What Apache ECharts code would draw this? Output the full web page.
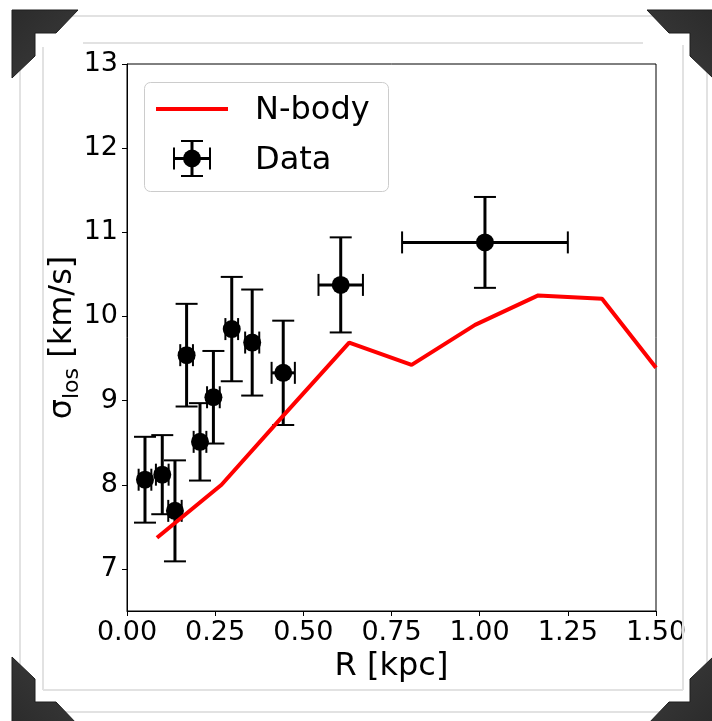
<!DOCTYPE html>
<html>
<head>
<meta charset="utf-8">
<script src="https://cdn.jsdelivr.net/npm/echarts@6/dist/echarts.min.js"></script>
<style>
  html, body { margin: 0; padding: 0; background: #ffffff; }
  #chart { width: 712px; height: 721px; }
</style>
</head>
<body>
<div id="chart"></div>
<script>
// Observed line-of-sight velocity dispersion profile
const radius    = [0.051, 0.100, 0.136, 0.169, 0.207, 0.245, 0.297, 0.355, 0.443, 0.606, 1.015];
const radiusErr = [0.018, 0.018, 0.019, 0.018, 0.018, 0.018, 0.018, 0.020, 0.033, 0.063, 0.235];
const sigma     = [8.06, 8.12, 7.69, 9.54, 8.51, 9.04, 9.85, 9.69, 9.33, 10.375, 10.88];
const sigmaErr  = [0.51, 0.47, 0.60, 0.61, 0.46, 0.55, 0.62, 0.63, 0.62, 0.565, 0.54];

// N-body model profile
const nbodyR     = [0.085, 0.268, 0.447, 0.630, 0.807, 0.987, 1.166, 1.347, 1.500];
const nbodySigma = [7.37, 8.00, 8.84, 9.69, 9.425, 9.90, 10.25, 10.21, 9.39];

// Axis ticks
const xTicks = [0, 0.25, 0.5, 0.75, 1.0, 1.25, 1.5];
const yTicks = [7, 8, 9, 10, 11, 12, 13];

const FONT = 'DejaVu Sans';
const chart = echarts.init(document.getElementById('chart'), null, { renderer: 'canvas' });

// Corner mount shapes of the photo frame
function corner(flipX, flipY) {
  const base = [[12, 10], [78, 10], [56, 33], [35, 33], [35, 56], [12, 78]];
  const pts = base.map(([x, y]) => [flipX ? 725 - x : x, flipY ? 735 - y : y]);
  return {
    type: 'polygon',
    shape: { points: pts },
    style: {
      fill: new echarts.graphic.LinearGradient(flipX ? 1 : 0, flipY ? 1 : 0, flipX ? 0 : 1, flipY ? 0 : 1, [
        { offset: 0, color: '#2b2b2b' },
        { offset: 1, color: '#3c3c3c' }
      ]),
      stroke: '#1e1e1e', lineWidth: 1
    },
    z: 100
  };
}

function frameLine(x1, y1, x2, y2) {
  return { type: 'line', shape: { x1, y1, x2, y2 }, style: { stroke: '#e2e2e2', lineWidth: 2 }, z: 1, silent: true };
}

const legendGraphics = [
  { type: 'rect', shape: { x: 144.5, y: 82.5, width: 244, height: 109, r: 6 },
    style: { fill: 'rgba(255,255,255,0.8)', stroke: '#cccccc', lineWidth: 1 }, z: 50 },
  { type: 'line', shape: { x1: 156, y1: 109, x2: 228, y2: 109 }, style: { stroke: '#ff0000', lineWidth: 4 }, z: 51 },
  { type: 'text', style: { x: 255, y: 111, text: 'N-body', fill: '#000', font: '32px "DejaVu Sans"', textVerticalAlign: 'middle', verticalAlign: 'middle' }, z: 51 },
  { type: 'line', shape: { x1: 192, y1: 141, x2: 192, y2: 176 }, style: { stroke: '#000', lineWidth: 3 }, z: 51 },
  { type: 'line', shape: { x1: 174, y1: 158.5, x2: 210, y2: 158.5 }, style: { stroke: '#000', lineWidth: 3 }, z: 51 },
  { type: 'line', shape: { x1: 181, y1: 141, x2: 203, y2: 141 }, style: { stroke: '#000', lineWidth: 2 }, z: 51 },
  { type: 'line', shape: { x1: 181, y1: 176, x2: 203, y2: 176 }, style: { stroke: '#000', lineWidth: 2 }, z: 51 },
  { type: 'line', shape: { x1: 174, y1: 147.5, x2: 174, y2: 169.5 }, style: { stroke: '#000', lineWidth: 2 }, z: 51 },
  { type: 'line', shape: { x1: 210, y1: 147.5, x2: 210, y2: 169.5 }, style: { stroke: '#000', lineWidth: 2 }, z: 51 },
  { type: 'circle', shape: { cx: 192, cy: 158.5, r: 9 }, style: { fill: '#000' }, z: 52 },
  { type: 'text', style: { x: 255, y: 161, text: 'Data', fill: '#000', font: '32px "DejaVu Sans"', textVerticalAlign: 'middle', verticalAlign: 'middle' }, z: 51 }
];

const option = {
  backgroundColor: '#ffffff',
  animation: false,
  textStyle: { fontFamily: FONT },
  grid: { left: 127, top: 64, right: 56, bottom: 110, show: true, borderColor: '#000', borderWidth: 1, backgroundColor: '#fff' },
  xAxis: {
    type: 'value', min: 0, max: 1.5, interval: 0.25,
    name: 'R [kpc]', nameLocation: 'middle', nameGap: 40, nameMoveOverlap: false,
    nameTextStyle: { fontSize: 32, color: '#000', fontFamily: FONT },
    axisLine: { show: true, onZero: false, lineStyle: { color: '#000', width: 1 } },
    axisTick: { show: true, length: 5, lineStyle: { color: '#000', width: 1 }, customValues: xTicks },
    axisLabel: { fontSize: 27, color: '#000', margin: 8, fontFamily: FONT, customValues: xTicks,
                 formatter: v => v.toFixed(2) },
    splitLine: { show: false }
  },
  yAxis: {
    type: 'value', min: 6.5, max: 13,
    name: '{a|σ}{b|los}{a| [km/s]}', nameLocation: 'middle', nameGap: 44, nameRotate: 90, nameMoveOverlap: false,
    nameTextStyle: {
      color: '#000', fontFamily: FONT,
      rich: {
        a: { fontSize: 32, lineHeight: 40, fontFamily: FONT, color: '#000' },
        b: { fontSize: 22, lineHeight: 30, fontFamily: FONT, color: '#000', verticalAlign: 'bottom' }
      }
    },
    axisLine: { show: true, onZero: false, lineStyle: { color: '#000', width: 1 } },
    axisTick: { show: true, length: 5, lineStyle: { color: '#000', width: 1 }, customValues: yTicks },
    axisLabel: { fontSize: 27, color: '#000', margin: 9, fontFamily: FONT, customValues: yTicks },
    splitLine: { show: false }
  },
  series: [
    {
      name: 'Data-errors',
      type: 'custom',
      z: 3,
      data: radius.map((r, i) => [r, sigma[i], radiusErr[i], sigmaErr[i]]),
      encode: { x: 0, y: 1 },
      renderItem: function (params, api) {
        const x = api.value(0), y = api.value(1), xe = api.value(2), ye = api.value(3);
        const top = api.coord([x, y + ye]);
        const bot = api.coord([x, y - ye]);
        const lft = api.coord([x - xe, y]);
        const rgt = api.coord([x + xe, y]);
        const cap = 11;
        const bar = { stroke: '#000', lineWidth: 3 };
        const capStyle = { stroke: '#000', lineWidth: 2 };
        return {
          type: 'group',
          children: [
            { type: 'line', shape: { x1: top[0], y1: top[1], x2: bot[0], y2: bot[1] }, style: bar },
            { type: 'line', shape: { x1: lft[0], y1: lft[1], x2: rgt[0], y2: rgt[1] }, style: bar },
            { type: 'line', shape: { x1: top[0] - cap, y1: top[1], x2: top[0] + cap, y2: top[1] }, style: capStyle },
            { type: 'line', shape: { x1: bot[0] - cap, y1: bot[1], x2: bot[0] + cap, y2: bot[1] }, style: capStyle },
            { type: 'line', shape: { x1: lft[0], y1: lft[1] - cap, x2: lft[0], y2: lft[1] + cap }, style: capStyle },
            { type: 'line', shape: { x1: rgt[0], y1: rgt[1] - cap, x2: rgt[0], y2: rgt[1] + cap }, style: capStyle }
          ]
        };
      }
    },
    {
      name: 'Data',
      type: 'scatter',
      z: 4,
      symbol: 'circle',
      symbolSize: 18,
      itemStyle: { color: '#000', opacity: 1 },
      data: radius.map((r, i) => [r, sigma[i]])
    },
    {
      name: 'N-body',
      type: 'line',
      z: 5,
      symbol: 'none',
      clip: true,
      lineStyle: { color: '#ff0000', width: 4 },
      data: nbodyR.map((r, i) => [r, nbodySigma[i]])
    }
  ],
  graphic: [
    // photo frame outlines
    frameLine(20, 16, 707, 16),
    frameLine(20, 16, 20, 712),
    frameLine(707, 16, 707, 712),
    frameLine(20, 712, 707, 712),
    frameLine(83, 43, 643, 43),
    frameLine(43, 47, 43, 690),
    frameLine(683, 45, 683, 690),
    frameLine(43, 690, 683, 690),
    corner(false, false),
    corner(true, false),
    corner(false, true),
    corner(true, true)
  ].concat(legendGraphics)
};

chart.setOption(option);
</script>
</body>
</html>
